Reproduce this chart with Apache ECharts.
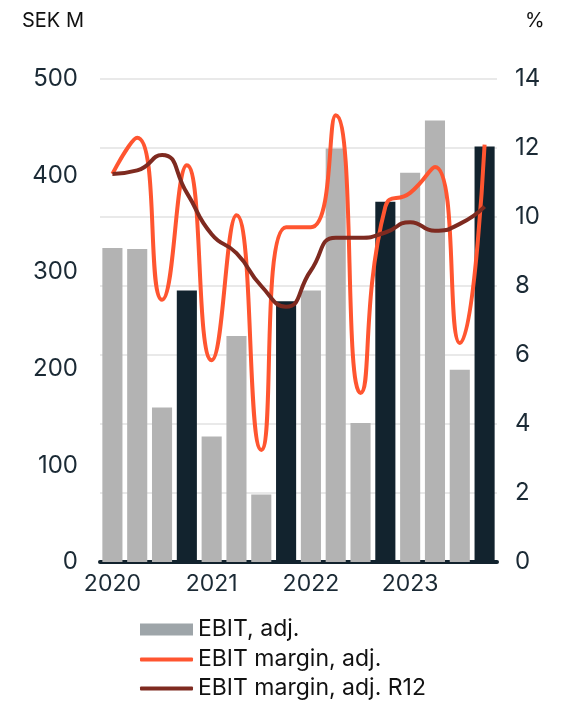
<!DOCTYPE html>
<html lang="en">
<head>
<meta charset="utf-8">
<style>
  html, body { margin: 0; padding: 0; background: #fff; }
  #container { width: 577px; height: 705px; }
</style>
</head>
<body>
<div id="container"></div>
<script src="https://cdn.jsdelivr.net/npm/echarts@6/dist/echarts.min.js"></script>
<script>
var yearLabels = ['2020','','','','2021','','','','2022','','','','2023','','',''];
var ebitAdj = [325, 324, 160, 281, 130, 234, 70, 270, 281, 428, 144, 373, 403, 457, 199, 430];
var isQ4 = [false, false, false, true, false, false, false, true, false, false, false, true, false, false, false, true];
var marginAdj = [11.25, 12.3, 7.6, 11.5, 5.85, 10.05, 3.25, 9.7, 9.7, 12.95, 4.9, 10.3, 10.7, 11.45, 6.35, 12.1];
var marginR12 = [11.25, 11.35, 11.8, 10.7, 9.5, 8.95, 8.0, 7.4, 8.45, 9.4, 9.4, 9.55, 9.85, 9.6, 9.8, 10.3];

var textColor = '#1b2a35';
var font = 'Inter, "Noto Sans", sans-serif';

var dom = document.getElementById('container');
var myChart = echarts.init(dom, null, { renderer: 'canvas' });

var barData = ebitAdj.map(function (v, i) {
  return { value: v, itemStyle: { color: isQ4[i] ? '#12232e' : '#b3b3b3' } };
});

// one legend per row so the bar swatch and the line swatches can differ in height
function legendRow(name, top, h, icon, color) {
  return {
    left: 140,
    top: top,
    padding: 0,
    itemWidth: 53,
    itemHeight: h,
    icon: icon,
    textStyle: { fontFamily: font, fontSize: 23, color: '#111' },
    data: [{ name: name, itemStyle: { color: color } }]
  };
}

var option = {
  animation: false,
  textStyle: { fontFamily: font },
  grid: { left: 100, right: 80, top: 79, bottom: 143, containLabel: false },
  legend: [
    legendRow('EBIT, adj.', 618, 12, 'rect', '#9ea5a9'),
    legendRow('EBIT margin, adj.', 648, 4, 'roundRect', '#ff5530'),
    legendRow('EBIT margin, adj. R12', 677, 4, 'roundRect', '#7e2a20')
  ],
  xAxis: {
    type: 'category',
    data: yearLabels,
    axisLine: { show: true, lineStyle: { color: '#12232e', width: 4 } },
    axisTick: { show: false },
    axisLabel: { interval: 0, color: textColor, fontSize: 23, margin: 11, fontFamily: font }
  },
  yAxis: [
    {
      type: 'value',
      min: 0, max: 500, interval: 100,
      name: 'SEK M',
      nameLocation: 'end',
      nameGap: 48,
      nameTextStyle: { color: '#111', fontSize: 20, align: 'left', padding: [0, 0, 0, -78], fontFamily: font },
      axisLine: { show: false },
      axisTick: { show: false },
      splitLine: { show: false },
      axisLabel: { color: textColor, fontSize: 24, margin: 22, fontFamily: font }
    },
    {
      type: 'value',
      min: 0, max: 14, interval: 2,
      name: '%',
      nameLocation: 'end',
      nameGap: 48,
      nameTextStyle: { color: '#111', fontSize: 20, align: 'left', padding: [0, 0, 0, 28], fontFamily: font },
      axisLine: { show: false },
      axisTick: { show: false },
      splitLine: { show: true, lineStyle: { color: '#e2e2e2', width: 1.5 } },
      axisLabel: { color: textColor, fontSize: 24, margin: 18, fontFamily: font }
    }
  ],
  series: [
    {
      name: 'EBIT, adj.',
      type: 'bar',
      yAxisIndex: 0,
      barCategoryGap: '19%',
      itemStyle: { color: '#b3b3b3' },
      data: barData
    },
    {
      name: 'EBIT margin, adj.',
      type: 'line',
      yAxisIndex: 1,
      smooth: 0.55,
      symbol: 'none',
      lineStyle: { color: '#ff5530', width: 4 },
      itemStyle: { color: '#ff5530' },
      data: marginAdj
    },
    {
      name: 'EBIT margin, adj. R12',
      type: 'line',
      yAxisIndex: 1,
      smooth: 0.55,
      symbol: 'none',
      lineStyle: { color: '#7e2a20', width: 4 },
      itemStyle: { color: '#7e2a20' },
      data: marginR12
    }
  ]
};

myChart.setOption(option);
window.addEventListener('resize', myChart.resize);
</script>
</body>
</html>
